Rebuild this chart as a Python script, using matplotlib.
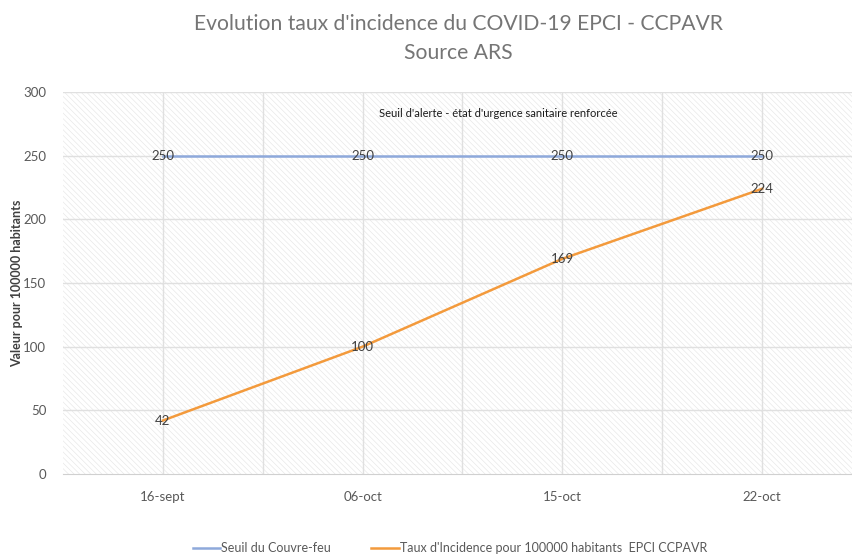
import numpy as np
import matplotlib.pyplot as plt
from matplotlib.patches import Rectangle

plt.rcParams['font.family'] = ['Lato', 'DejaVu Sans']
plt.rcParams['hatch.linewidth'] = 0.4

dates = ['16-sept', '06-oct', '15-oct', '22-oct']
seuil = [250, 250, 250, 250]
taux = [42, 100, 169, 224]
yticks = [0, 50, 100, 150, 200, 250, 300]

blue = '#8EA9DB'
orange = '#F39A3C'
grey = '#595959'

fig = plt.figure(figsize=(8.53, 5.55), dpi=100)
ax = fig.add_axes([63 / 853, 1 - 474 / 555, (862 - 63) / 853, (474 - 92) / 555])

x = np.arange(len(dates))
ax.set_xlim(-0.5, len(dates) - 0.5)
ax.set_ylim(0, 300)

# hatched background
bg = Rectangle((0, 0), 1, 1, transform=ax.transAxes, facecolor='white',
               edgecolor='#e4e4e4', hatch='\\' * 6, linewidth=0, zorder=0)
ax.add_patch(bg)

# grid: horizontal every 50, vertical every half category
for v in yticks[1:]:
    ax.axhline(v, color='#e0e0e0', linewidth=1, zorder=1)
for v in np.arange(-0.5, len(dates), 0.5)[1:]:
    ax.axvline(v, color='#e0e0e0', linewidth=1, zorder=1)

ax.plot(x, seuil, color=blue, linewidth=1.8, zorder=3, label='Seuil du Couvre-feu')
ax.plot(x, taux, color=orange, linewidth=1.8, zorder=3,
        label="Taux d'Incidence pour 100000 habitants  EPCI CCPAVR")

for xi, v in zip(x, seuil):
    ax.text(xi, v, str(v), ha='center', va='center', fontsize=9.5, color='#404040', zorder=4)
for xi, v in zip(x, taux):
    ax.text(xi, v, str(v), ha='center', va='center', fontsize=9.5, color='#404040', zorder=4)

ax.text(1.68, 283.5, "Seuil d'alerte - état d'urgence sanitaire renforcée",
        ha='center', va='center', fontsize=8, color='#1a1a1a', zorder=4)

ax.set_xticks(x)
ax.set_xticklabels(dates, fontsize=9.5, color=grey)
ax.set_yticks(yticks)
ax.set_yticklabels([str(v) for v in yticks], fontsize=9.5, color=grey)
ax.tick_params(length=0, pad=12)
for s in ['top', 'right', 'left']:
    ax.spines[s].set_visible(False)
ax.spines['bottom'].set_color('#d0d0d0')

ax.set_ylabel('Valeur pour 100000 habitants', fontsize=9, fontweight='bold',
              color='#404040')
ax.yaxis.set_label_coords(-40 / 799, 0.5)

fig.text(458 / 853, 1 - 24 / 555, "Evolution taux d'incidence du COVID-19 EPCI - CCPAVR",
         ha='center', va='center', fontsize=15.2, color='#757575')
fig.text(458 / 853, 1 - 53 / 555, 'Source ARS',
         ha='center', va='center', fontsize=15.2, color='#757575')

fig.legend(loc='center', bbox_to_anchor=(450 / 853, 1 - 548 / 555), ncol=2,
           frameon=False, fontsize=9, handlelength=2.2, handletextpad=0.1,
           columnspacing=3.2, labelcolor=grey)

fig.savefig('out.png', dpi=100)
